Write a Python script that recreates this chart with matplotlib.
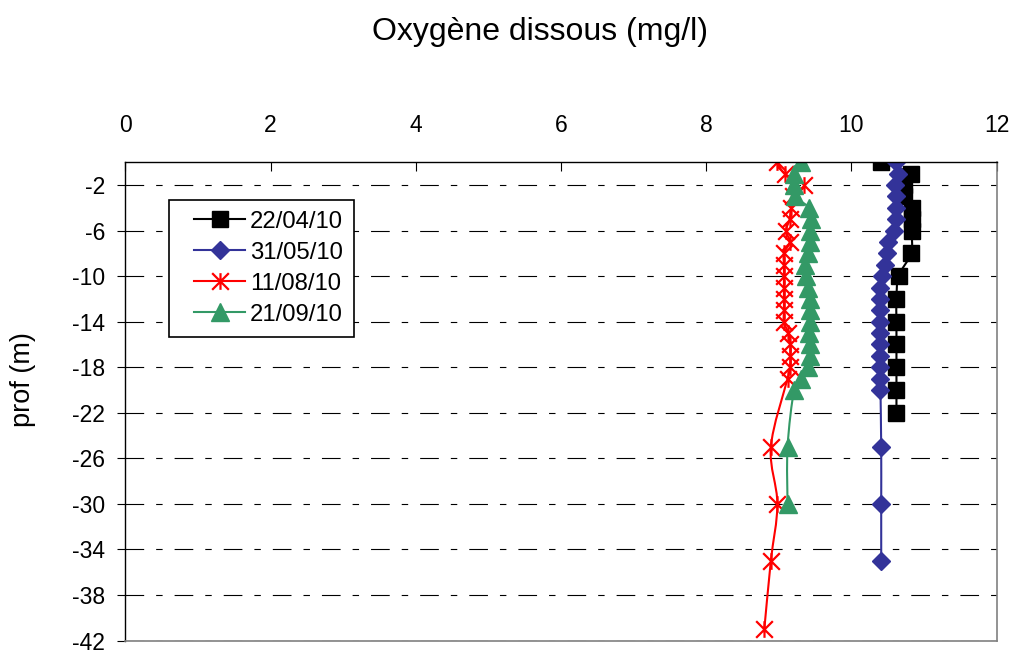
import numpy as np
import matplotlib
matplotlib.use("Agg")
import matplotlib.pyplot as plt
from matplotlib.path import Path
from matplotlib.patches import PathPatch
from matplotlib.lines import Line2D
from matplotlib.legend_handler import HandlerLine2D

plt.rcParams['font.family'] = ['Liberation Sans', 'DejaVu Sans']
plt.rcParams['axes.unicode_minus'] = False

# ---- data ----
labels = ["22/04/10", "31/05/10", "11/08/10", "21/09/10"]

depth_2204 = [0, -1, -2, -3, -4, -5, -6, -8, -10, -12, -14, -16, -18, -20, -22]
oxy_2204 = [10.41, 10.82, 10.73, 10.73, 10.83, 10.83, 10.83, 10.82, 10.65,
            10.62, 10.62, 10.62, 10.62, 10.62, 10.62]

depth_3105 = [0, -1, -2, -3, -4, -5, -6, -7, -8, -9, -10, -11, -12, -13, -14,
              -15, -16, -17, -18, -19, -20, -25, -30, -35]
oxy_3105 = [10.62, 10.64, 10.60, 10.62, 10.62, 10.62, 10.58, 10.50, 10.49, 10.46,
            10.42, 10.40, 10.40, 10.40, 10.40, 10.40, 10.40, 10.40, 10.40, 10.40,
            10.40, 10.41, 10.41, 10.41]

depth_1108 = [0, -1, -2, -3, -4, -5, -6, -7, -8, -9, -10, -11, -12, -13, -14,
              -15, -16, -17, -18, -19, -25, -30, -35, -41]
oxy_1108 = [8.98, 9.08, 9.35, 9.20, 9.17, 9.15, 9.10, 9.15, 9.07, 9.07, 9.07,
            9.07, 9.07, 9.07, 9.07, 9.13, 9.16, 9.16, 9.16, 9.12, 8.89, 8.98,
            8.89, 8.80]

depth_2109 = [0, -1, -2, -3, -4, -5, -6, -7, -8, -9, -10, -11, -12, -13, -14,
              -15, -16, -17, -18, -19, -20, -25, -30]
oxy_2109 = [9.30, 9.21, 9.21, 9.22, 9.42, 9.44, 9.43, 9.43, 9.40, 9.36, 9.38,
            9.40, 9.43, 9.43, 9.43, 9.42, 9.43, 9.43, 9.40, 9.31, 9.21, 9.12, 9.12]

xticks = [0, 2, 4, 6, 8, 10, 12]
yticks = [-2, -6, -10, -14, -18, -22, -26, -30, -34, -38, -42]

# ---- styles ----
star = Path([(-1, -1), (1, 1), (-1, 1), (1, -1), (0, -1), (0, 1)],
            [Path.MOVETO, Path.LINETO, Path.MOVETO, Path.LINETO, Path.MOVETO, Path.LINETO])

series = [
    (oxy_2204, depth_2204, 'black', dict(marker='s', ms=11.5, mfc='black', mec='black')),
    (oxy_3105, depth_3105, '#333399', dict(marker='D', ms=9.3, mfc='#333399', mec='#333399')),
    (oxy_1108, depth_1108, '#FF0000', dict(marker=star, ms=12, mfc='none', mec='#FF0000', mew=1.6)),
    (oxy_2109, depth_2109, '#339966', dict(marker='^', ms=12.5, mfc='#339966', mec='#339966')),
]


def smooth_path(xs, ys):
    P = np.column_stack([xs, ys]).astype(float)
    n = len(P)
    verts = [P[0]]
    codes = [Path.MOVETO]
    for i in range(n - 1):
        p0 = P[i - 1] if i > 0 else P[i]
        p1 = P[i]
        p2 = P[i + 1]
        p3 = P[i + 2] if i + 2 < n else P[i + 1]
        c1 = p1 + (p2 - p0) / 6.0
        c2 = p2 - (p3 - p1) / 6.0
        verts += [c1, c2, p2]
        codes += [Path.CURVE4] * 3
    return Path(verts, codes)


class ShiftedHandler(HandlerLine2D):
    """Legend handle whose line starts a little to the right of the box edge."""
    def __init__(self, lead, **kw):
        super().__init__(**kw)
        self.lead = lead

    def get_xdata(self, legend, xdescent, ydescent, width, height, fontsize):
        x0 = -xdescent + self.lead
        x1 = -xdescent + width
        xdata = np.array([x0, x1])
        return xdata, np.array([(x0 + x1) / 2.0])


fig = plt.figure(figsize=(10.14, 6.53), dpi=100)
ax = fig.add_axes([0.1236, 0.0190, 0.8593, 0.7325])

ax.set_xlim(0, 12)
ax.set_ylim(-42, 0)

# gridlines
for yv in yticks:
    ax.axhline(yv, color='black', lw=0.8, dashes=(16.8, 10.8, 5.8, 10.8), zorder=1)

handles = []
for k, (xs, ys, col, mk) in enumerate(series):
    patch = PathPatch(smooth_path(xs, ys), facecolor='none', edgecolor=col,
                      lw=1.5, transform=ax.transData, zorder=2 + k * 0.1)
    ax.add_patch(patch)
    ax.plot(xs, ys, linestyle='none', zorder=2.05 + k * 0.1, **mk)
    handles.append(Line2D([], [], color=col, lw=1.5, **mk))

ax.xaxis.tick_top()
ax.set_xticks(xticks)
ax.set_yticks(yticks)
ax.tick_params(axis='x', direction='in', length=6.5, width=0.8, pad=18,
               labelsize=16.5, colors='black')
ax.tick_params(axis='y', direction='out', length=6, width=0.8, pad=8.5,
               labelsize=16.5, colors='black')

for s in ['top', 'left']:
    ax.spines[s].set_color('black')
    ax.spines[s].set_linewidth(1.0)
for s in ['right', 'bottom']:
    ax.spines[s].set_color('#808080')
    ax.spines[s].set_linewidth(1.2)

ax.set_ylabel('prof (m)', fontsize=19.5)
ax.yaxis.set_label_coords(-0.1025, 0.545)

fig.text(540 / 1014, 1 - 40 / 653, 'Oxygène dissous (mg/l)', ha='center',
         va='baseline', fontsize=23)

leg = ax.legend(handles, labels, loc='upper left', bbox_to_anchor=(0.0501, 0.9216),
                borderaxespad=0, frameon=True, fancybox=False, edgecolor='black',
                framealpha=1, fontsize=17.2, handlelength=2.75, handletextpad=0.2,
                labelspacing=0.38, borderpad=0.45,
                handler_map={Line2D: ShiftedHandler(lead=10)})
leg.get_frame().set_linewidth(1.2)
leg.set_zorder(5)

fig.savefig('out.png', dpi=100)
